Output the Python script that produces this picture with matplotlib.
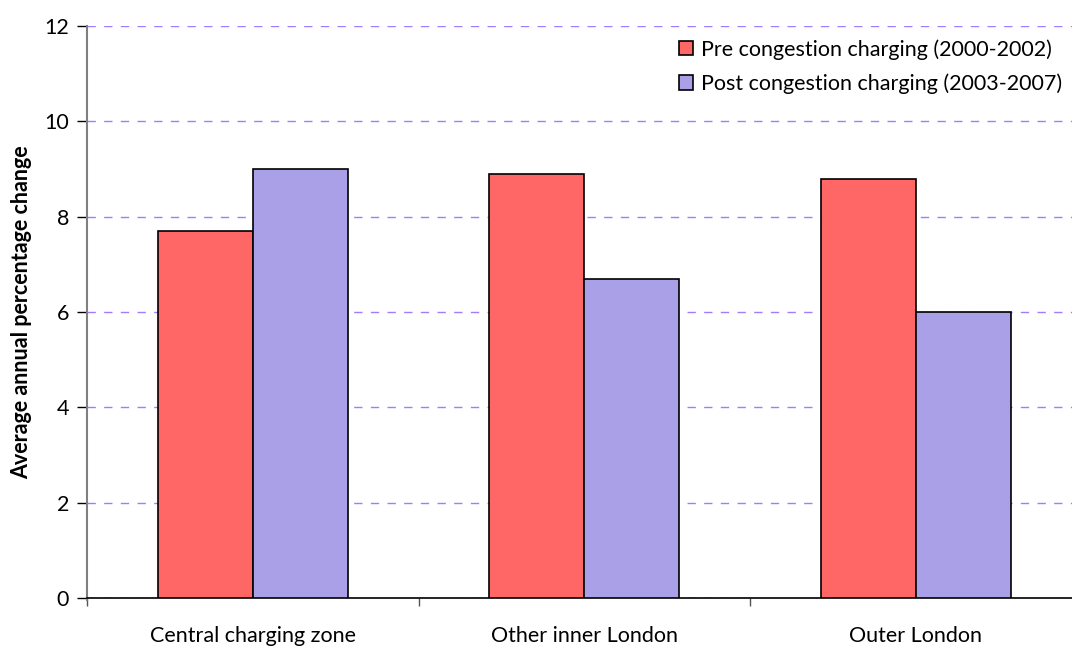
import numpy as np
import matplotlib
matplotlib.use("Agg")
import matplotlib.pyplot as plt

plt.rcParams['font.family'] = ['Lato', 'DejaVu Sans']

categories = ['Central charging zone', 'Other inner London', 'Outer London']
pre_values = [7.7, 8.9, 8.8]
post_values = [9.0, 6.7, 6.0]
series_labels = ['Pre congestion charging (2000-2002)', 'Post congestion charging (2003-2007)']

pre_color = '#ff6666'
post_color = '#aaa0e8'
grid_color = '#a07cff'

fig = plt.figure(figsize=(10.72, 6.46), dpi=100)
ax = fig.add_axes([87 / 1072, 1 - 598 / 646, (1081.5 - 87) / 1072, (598 - 26) / 646])

x = np.arange(len(categories))
w = 0.287
ax.bar(x - w / 2, pre_values, w, color=pre_color, edgecolor='black', linewidth=1.2,
       label=series_labels[0], zorder=3)
ax.bar(x + w / 2, post_values, w, color=post_color, edgecolor='black', linewidth=1.2,
       label=series_labels[1], zorder=3)

ax.set_xlim(-0.5, len(categories) - 0.5)
ax.set_ylim(0, 12)
ax.set_yticks(range(0, 13, 2))
ax.set_xticks(x)
ax.set_xticklabels(categories, fontsize=15.5)
ax.set_xticks(np.arange(-0.5, len(categories), 1), minor=True)
ax.tick_params(axis='x', which='major', length=0, pad=20)
ax.tick_params(axis='x', which='minor', length=6, width=1, color='#555555', direction='out')
ax.tick_params(axis='y', length=7, width=1, labelsize=15.5, color='black', pad=6)

ax.yaxis.grid(True, linestyle=(0, (6, 6)), color=grid_color, linewidth=1, zorder=0)
ax.set_axisbelow(True)

for s in ['top', 'right']:
    ax.spines[s].set_visible(False)
ax.spines['left'].set_color('#808080')
ax.spines['left'].set_linewidth(1.5)
ax.spines['left'].set_bounds(-0.05, 12)
ax.spines['bottom'].set_color('black')
ax.spines['bottom'].set_linewidth(1.2)

ax.set_ylabel('Average annual percentage change', fontsize=15.5, fontweight='bold', labelpad=9)

leg = ax.legend(loc='upper right', bbox_to_anchor=((1072 - 87) / (1081.5 - 87) + 0.003, 1.0),
                frameon=False, fontsize=15.5, handlelength=0.65, handleheight=0.65,
                handletextpad=0.35, labelspacing=0.65, borderaxespad=0.2)

fig.savefig('out.png', dpi=100)
